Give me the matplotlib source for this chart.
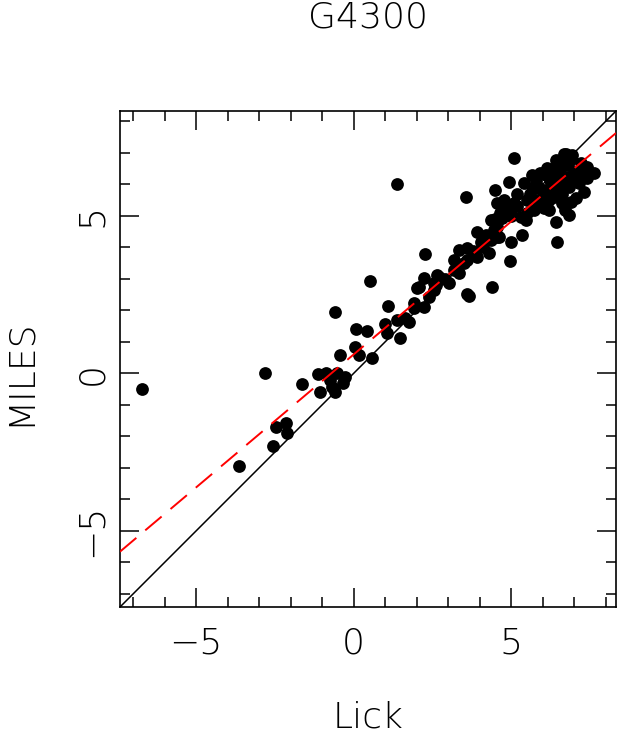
import numpy as np
import matplotlib
matplotlib.use("Agg")
import matplotlib.pyplot as plt
from matplotlib.ticker import MultipleLocator

# Valores (Lick vs MILES, indice G4300)
lick = [-6.72, -2.83, -3.65, -2.56, -2.46, -2.15, -2.12, -1.64, -1.06, -1.14,
        -0.88, -0.69, -0.58, -0.53, -0.26, -0.42, -0.60, 0.05, 0.16, 0.58,
        0.08, 0.43, 0.51, 0.99, 1.06, 1.36, 1.48, 1.64, 1.75, 1.08,
        1.38, 1.91, 2.01, 2.23, 2.38, 2.23, 2.28, 2.54, 2.65, 2.07,
        2.54, 2.70, 3.02, 3.18, 3.34, 3.18, 3.34, 3.60, 3.60, 3.92,
        4.03, 4.29, 4.35, 4.61, 4.56, 4.66, 4.77, 4.56, 4.88, 4.72,
        3.57, 4.48, 4.93, 3.60, 3.66, 4.40, 4.96, 4.98, 3.92, 5.09,
        5.40, 5.67, 4.77, 4.98, 5.30, 5.46, 5.35, 6.47, 6.41, 6.83,
        6.04, 5.72, 5.83, 6.09, 5.93, 6.15, 6.41, 6.73, 6.94, 6.52,
        6.73, 6.99, 7.21, 7.42, 7.63, 7.31, 7.15, 7.31, 7.05, 6.89,
        6.62, 6.36, 6.57, 6.83, 6.25, 6.67, 4.35, 4.56, 4.45, 6.67,
        1.91, 5.60, 5.90, 6.20, 6.50, 6.80, 7.00, 6.10, 5.50, 5.20,
        5.80, 6.30, 6.60, 7.10, 6.40, 5.70, 6.00, 6.90, 7.40, 6.70,
        6.20, 5.50, 5.20, 4.20, 4.50, 5.00, 5.10, 3.80, 4.10, 3.50,
        2.90, 2.60, -0.75, -0.35]
miles = [-0.50, 0.00, -2.94, -2.31, -1.69, -1.59, -1.90, -0.35, -0.60, -0.02,
         0.00, -0.42, -0.60, 0.00, -0.11, 0.58, 1.94, 0.84, 0.58, 0.50,
         1.41, 1.35, 2.93, 1.56, 1.27, 1.69, 1.11, 1.75, 1.62, 2.14,
         6.00, 2.06, 2.72, 2.11, 2.43, 3.02, 3.78, 2.64, 3.12, 2.75,
         2.86, 3.07, 2.86, 3.28, 3.17, 3.60, 3.91, 3.97, 3.60, 3.70,
         4.18, 3.81, 4.23, 4.34, 4.65, 5.08, 5.40, 5.40, 5.18, 4.92,
         5.59, 5.82, 6.08, 2.52, 2.45, 2.75, 3.58, 4.18, 4.50, 6.83,
         6.03, 6.30, 5.50, 5.18, 4.97, 4.87, 4.39, 4.18, 4.81, 5.03,
         5.24, 5.18, 5.50, 5.82, 6.35, 6.51, 6.77, 6.98, 6.93, 6.45,
         6.24, 6.40, 6.67, 6.56, 6.35, 6.30, 6.03, 5.77, 5.56, 5.45,
         5.40, 5.61, 5.92, 5.92, 6.14, 6.61, 4.87, 4.34, 4.55, 6.98,
         2.22, 5.70, 5.90, 5.50, 6.20, 6.60, 6.10, 6.30, 5.50, 5.30,
         6.10, 5.90, 5.70, 6.40, 6.50, 5.90, 5.60, 6.80, 6.20, 5.20,
         5.20, 5.10, 5.70, 4.40, 4.90, 5.00, 5.40, 3.90, 4.00, 3.50,
         3.00, 2.80, -0.20, -0.30]

# Ajuste linear (reta vermelha tracejada)
fit_slope = 0.844
fit_intercept = 0.60

lims = (-7.42, 8.33)

plt.rcParams['font.family'] = ['DejaVu Sans']
plt.rcParams['font.weight'] = 'light'

fig = plt.figure(figsize=(6.18, 7.42), dpi=100)
ax = fig.add_axes([120/618, 1 - 607/742, 496/618, 496/742])

ax.plot(lick, miles, 'o', color='black', markersize=9.2, markeredgewidth=0, zorder=3)

xx = np.array(lims)
ax.plot(xx, xx, color='black', lw=1.1, zorder=2)  # reta 1:1
ax.plot(xx, fit_slope * xx + fit_intercept, color='red', lw=1.4,
        dashes=(11, 6), zorder=4)

ax.set_xlim(lims)
ax.set_ylim(lims)

ax.xaxis.set_major_locator(MultipleLocator(5))
ax.xaxis.set_minor_locator(MultipleLocator(1))
ax.yaxis.set_major_locator(MultipleLocator(5))
ax.yaxis.set_minor_locator(MultipleLocator(1))
ax.tick_params(which='both', direction='in', top=True, right=True, width=1.1,
               labelsize=26)
ax.tick_params(which='major', length=13.7)
ax.tick_params(which='minor', length=7.2)
ax.tick_params(axis='x', pad=14)
ax.tick_params(axis='y', pad=8)
for lbl in ax.get_yticklabels():
    lbl.set_rotation(90)
    lbl.set_va('center')
for s in ax.spines.values():
    s.set_linewidth(1.2)

# Textos (titulo e eixos)
fig.text(368/618, 1 - 18/742, 'G4300', ha='center', va='center', fontsize=26)
fig.text(368/618, 1 - 718/742, 'Lick', ha='center', va='center', fontsize=26)
fig.text(20/618, 1 - 372/742, 'MILES', ha='center', va='center', fontsize=26,
         rotation=90)

fig.savefig('out.png', dpi=100)
